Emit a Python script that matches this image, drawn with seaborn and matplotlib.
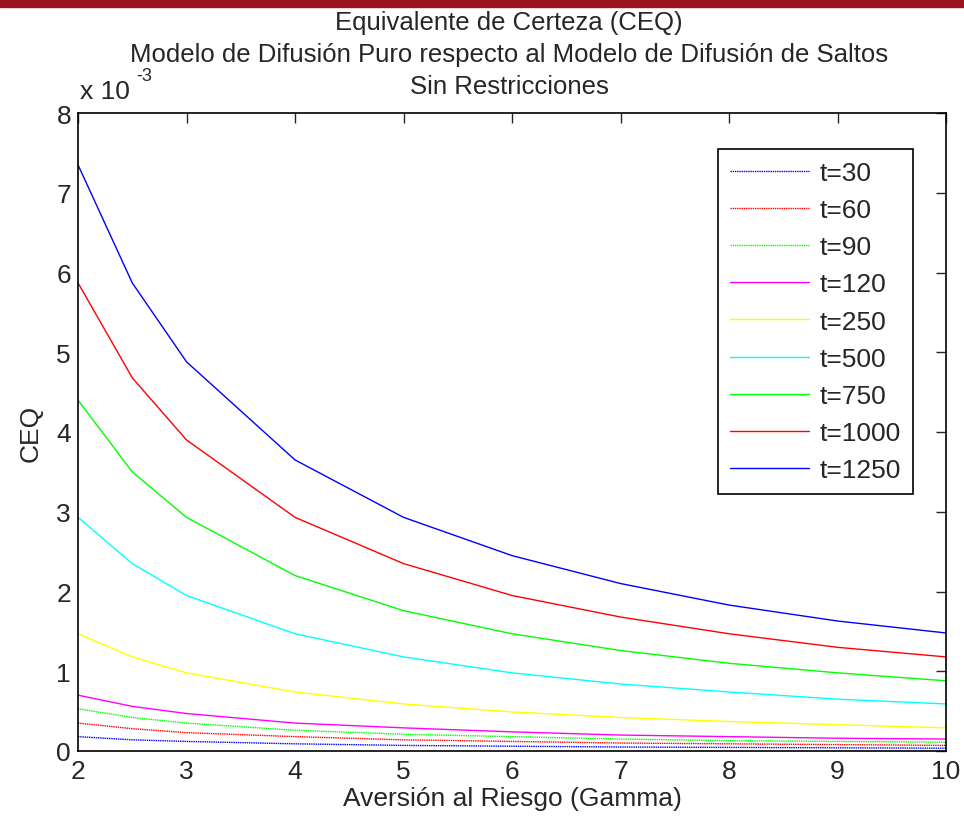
import numpy as np
import pandas as pd
import matplotlib
matplotlib.use("Agg")
import matplotlib.pyplot as plt
import seaborn as sns
from matplotlib.patches import Rectangle

# Datos (CEQ en unidades de 10^-3)
gamma = [2, 2.5, 3, 4, 5, 6, 7, 8, 9, 10]
etiquetas = ["t=30", "t=60", "t=90", "t=120", "t=250", "t=500", "t=750", "t=1000", "t=1250"]
ceq_30 = [0.18, 0.14, 0.12, 0.09, 0.07, 0.06, 0.05, 0.045, 0.04, 0.035]
ceq_60 = [0.35, 0.28, 0.23, 0.18, 0.14, 0.12, 0.10, 0.09, 0.08, 0.07]
ceq_90 = [0.53, 0.42, 0.35, 0.26, 0.21, 0.18, 0.15, 0.13, 0.12, 0.11]
ceq_120 = [0.70, 0.56, 0.47, 0.35, 0.29, 0.24, 0.20, 0.18, 0.16, 0.15]
ceq_250 = [1.47, 1.18, 0.98, 0.74, 0.59, 0.49, 0.42, 0.37, 0.33, 0.29]
ceq_500 = [2.93, 2.35, 1.95, 1.47, 1.18, 0.98, 0.84, 0.74, 0.65, 0.59]
ceq_750 = [4.40, 3.50, 2.93, 2.20, 1.76, 1.47, 1.26, 1.10, 0.98, 0.88]
ceq_1000 = [5.87, 4.68, 3.90, 2.93, 2.35, 1.95, 1.68, 1.47, 1.30, 1.18]
ceq_1250 = [7.35, 5.87, 4.88, 3.65, 2.93, 2.45, 2.10, 1.83, 1.63, 1.48]
series = [ceq_30, ceq_60, ceq_90, ceq_120, ceq_250, ceq_500, ceq_750, ceq_1000, ceq_1250]

titulos = ["Equivalente de Certeza (CEQ)",
           "Modelo de Difusión Puro respecto al Modelo de Difusión de Saltos",
           "Sin Restricciones"]

colores = ["#0000ff", "#ff0000", "#00ff00", "#ff00ff", "#ffff00", "#00ffff", "#00ff00", "#ff0000", "#0000ff"]
estilos = [(0, (1, 0.6)), (0, (1, 0.6)), (0, (1, 0.6)), "-", "-", "-", "-", "-", "-"]

sns.set_style("white")
plt.rcParams['font.family'] = ['Liberation Sans', 'DejaVu Sans']
plt.rcParams['xtick.direction'] = 'in'
plt.rcParams['ytick.direction'] = 'in'

FS = 19

fig = plt.figure(figsize=(9.64, 8.28), dpi=100)
ax = fig.add_axes([78 / 964, 1 - 752 / 828, (946 - 78) / 964, (752 - 114) / 828])

# franja roja superior
fig.patches.append(Rectangle((0, 1 - 8 / 828), 1, 8 / 828, transform=fig.transFigure,
                             color="#9a1420", zorder=0))

for lab, vals, col, ls in zip(etiquetas, series, colores, estilos):
    df = pd.DataFrame({"gamma": gamma, "ceq": vals})
    sns.lineplot(data=df, x="gamma", y="ceq", ax=ax, color=col, linestyle=ls,
                 linewidth=1.0, label=lab)

ax.set_xlim(2, 10)
ax.set_ylim(0, 8)
ax.set_xticks(range(2, 11))
ax.set_yticks(range(0, 9))
ax.tick_params(labelsize=FS, length=7, width=1, top=True, right=True, pad=5)
ax.tick_params(axis="x", pad=6)
for s in ax.spines.values():
    s.set_color("black")
    s.set_linewidth(1.2)

ax.set_xlabel("Aversión al Riesgo (Gamma)", fontsize=FS, labelpad=2)
ax.set_ylabel("CEQ", fontsize=FS, labelpad=10)

# título en tres líneas
for txt, yb in zip(titulos, [30, 62, 94]):
    fig.text(509 / 964, 1 - yb / 828, txt, fontsize=18.5, ha="center", va="baseline")

# etiqueta de escala estilo MATLAB
ax.text(0.002, 1.016, "x 10", transform=ax.transAxes, fontsize=FS,
        ha="left", va="bottom")
ax.text((136 - 78) / 868, 1.045, "-3", transform=ax.transAxes, fontsize=13,
        ha="left", va="bottom")

leg = ax.legend(loc="upper right", bbox_to_anchor=((913 - 78) / 868, 1 - (150 - 114) / 638),
                borderaxespad=0, fontsize=FS, handlelength=3.0, handletextpad=0.4,
                labelspacing=0.5, borderpad=0.45, fancybox=False,
                framealpha=1, edgecolor="black")
leg.get_frame().set_linewidth(1.2)

fig.savefig("out.png", dpi=100)
